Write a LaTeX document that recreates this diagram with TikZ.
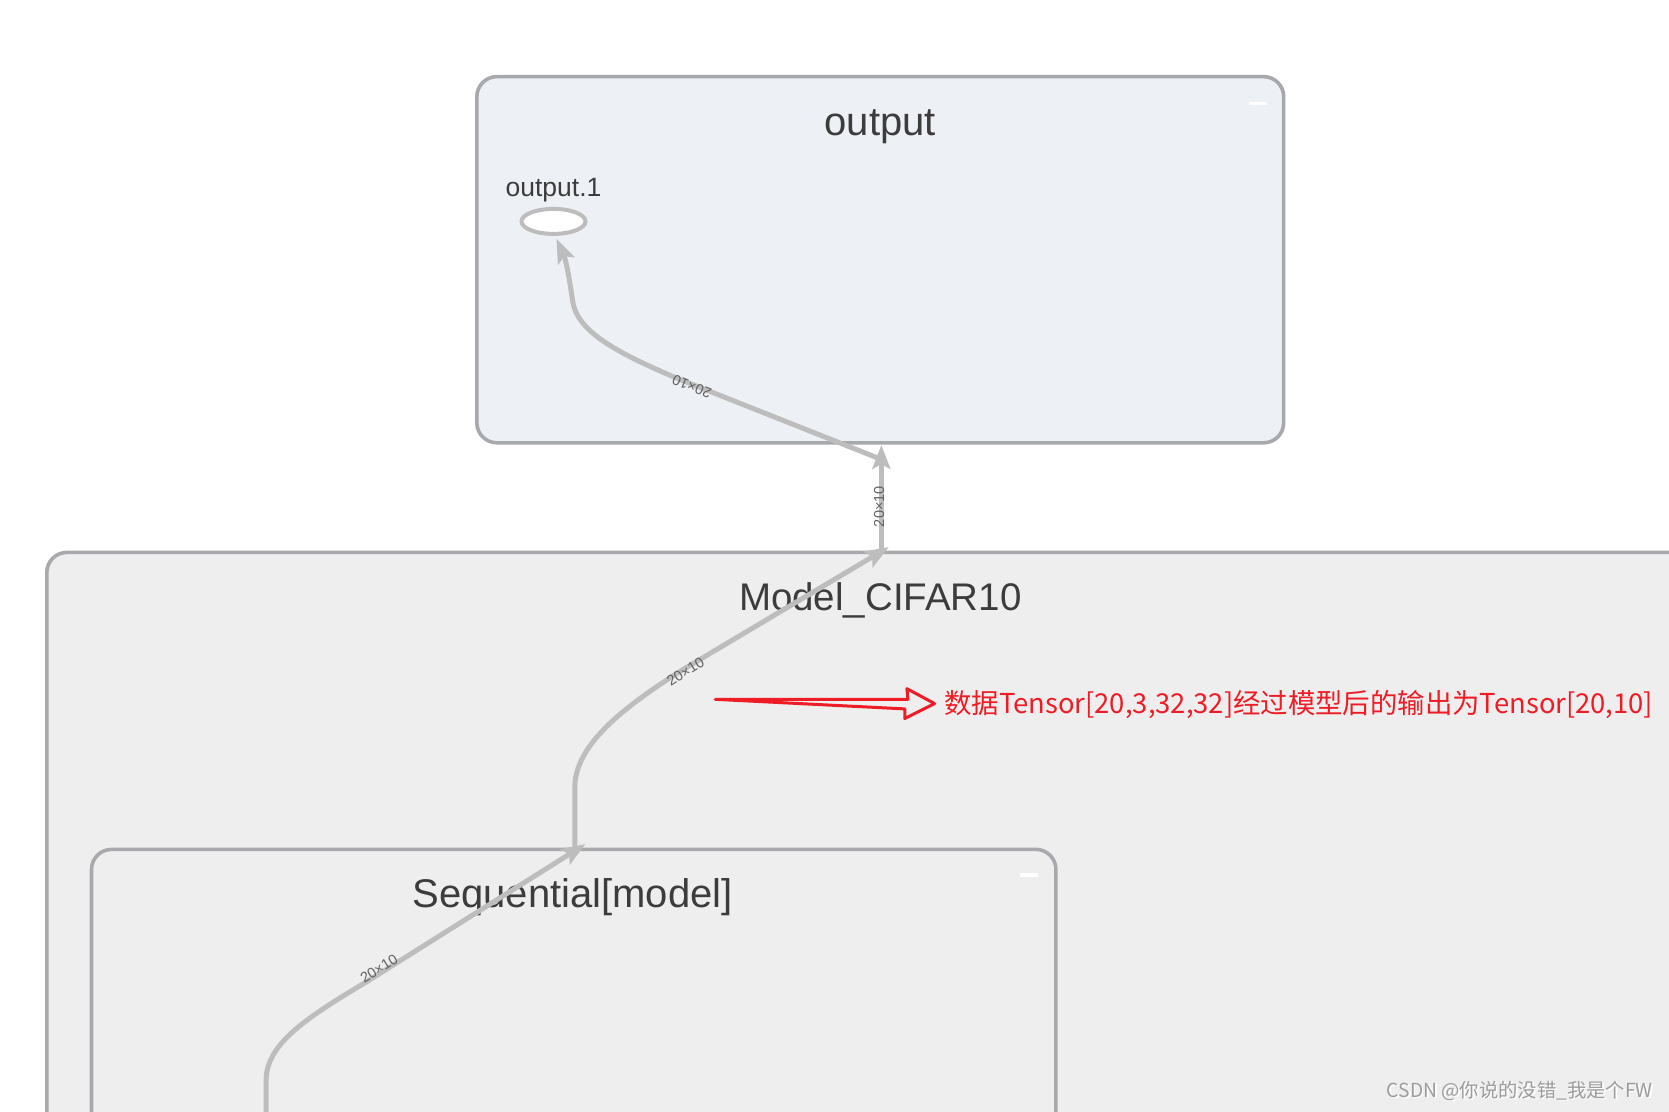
\documentclass[tikz,border=0pt]{standalone}
\usepackage{fontspec}
\setmainfont{Liberation Sans}
\newfontfamily\cjk{Noto Sans CJK SC}
\usetikzlibrary{arrows.meta,shapes.geometric}
\definecolor{boxline}{HTML}{A8A9AD}
\definecolor{outfill}{HTML}{EDF0F5}
\definecolor{modfill}{HTML}{EEEEEE}
\definecolor{edgec}{HTML}{BDBDBD}
\definecolor{txt}{HTML}{3C3C3C}
\definecolor{note}{HTML}{EE1C25}
\definecolor{wm}{HTML}{9C9C9C}
\begin{document}
\begin{tikzpicture}[x=1.0644pt,y=-1.0644pt,
  grp/.style={draw=boxline,line width=3.6pt,rounded corners=20pt},
  title/.style={text=txt,font=\fontsize{40}{42}\selectfont,inner sep=0pt},
  edge/.style={draw=edgec,line width=5pt,-{Stealth[length=24pt,width=18pt,inset=5pt]}},
  elabel/.style={text=black!62,font=\fontsize{14.5}{15}\selectfont,inner sep=0pt},
  minusbar/.style={fill=white,draw=none}]
\useasboundingbox (0,0) rectangle (1568,1044);
\clip (0,0) rectangle (1568,1044);
\fill[white] (0,0) rectangle (1568,1044);
% output group
\draw[grp,fill=outfill] (448,72) rectangle (1206,416);
\fill[minusbar] (1173,95.5) rectangle (1190,99);
\node[title] (outtitle) at (827,119) {output};
\node[text=txt,font=\fontsize{26.5}{28}\selectfont,inner sep=0pt] (out1lab) at (520,179) {output.1};
\node[draw=edgec,line width=4pt,fill=white,ellipse,minimum width=64pt,minimum height=25pt,inner sep=0pt] (out1) at (520,208) {};
% Model_CIFAR10 group
\draw[grp,fill=modfill] (44,519) rectangle (1640,1120);
\node[title,font=\fontsize{38.5}{40}\selectfont] (modtitle) at (827,564) {Model\_CIFAR10};
% Sequential group
\draw[grp,fill=modfill] (86,798) rectangle (992,1120);
\fill[minusbar] (958,820.5) rectangle (975,824);
\node[title] (seqtitle) at (538,843) {Sequential[model]};
% connector coordinates
\coordinate (e1s) at (829,432);
\coordinate (e2s) at (828,519);
\coordinate (e2t) at (828,418);
\coordinate (e3s) at (540,797);
\coordinate (e3t) at (835,514);
\coordinate (e4s) at (250,1060);
\coordinate (e4t) at (550,793);
% edges
\draw[edge] (e1s) -- (640,357) .. controls (575,330) and (542,310) .. (538,283) .. controls (535,262) and (532,245) .. ([xshift=3pt,yshift=-3pt]out1.south);
\draw[edge] (e2s) -- (e2t);
\draw[edge] (e3s) -- (540,740) .. controls (540,700) and (585,665) .. (640,630) -- (e3t);
\draw[edge] (e4s) -- (250,1015) .. controls (250,980) and (290,955) .. (345,922) -- (e4t);
% edge labels
\node[elabel,rotate=158] (l1) at (650,363) {20×10};
\node[elabel,rotate=90] (l2) at (826,476) {20×10};
\node[elabel,rotate=32] (l3) at (644,631) {20×10};
\node[elabel,rotate=32] (l4) at (356,910) {20×10};
% red annotation
\coordinate (rtail) at (672,657);
\node[text=note,font=\cjk\fontsize{27.4}{29}\selectfont,inner sep=0pt,anchor=west] (note) at (887,662) {数据Tensor[20,3,32,32]经过模型后的输出为Tensor[20,10]};
\draw[note,line width=3pt,line join=round,line cap=round] (rtail) -- (853,657) -- (852,647) -- (878,661) -- (850,675) -- (850,666) -- cycle;
% watermark
\node[text=white,font=\cjk\fontsize{19.3}{20}\selectfont,inner sep=0pt,anchor=east] (wm2) at (1554.5,1026) {CSDN @你说的没错\_我是个FW};
\node[text=wm,font=\cjk\fontsize{19.3}{20}\selectfont,inner sep=0pt,anchor=east] (wm) at (1553,1025) {CSDN @你说的没错\_我是个FW};
\end{tikzpicture}
\end{document}
